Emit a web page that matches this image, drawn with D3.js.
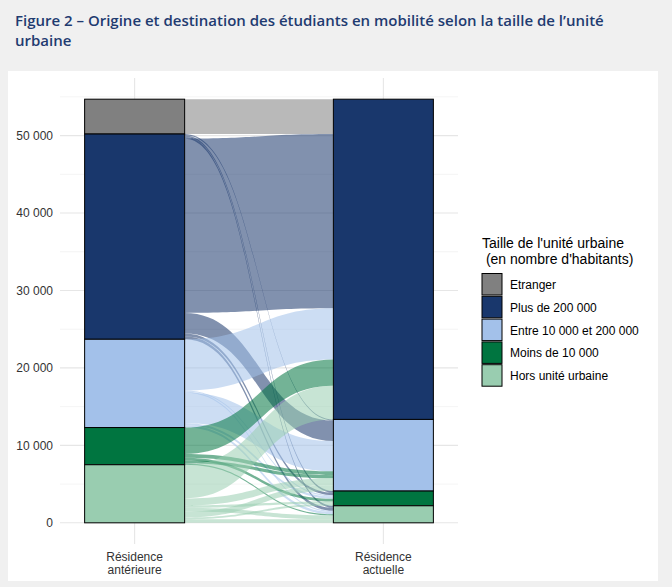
<!DOCTYPE html>
<html>
<head>
<meta charset="utf-8">
<script src="https://cdn.jsdelivr.net/npm/d3@7"></script>
<style>
  body { margin: 0; background: #f0f0f0; }
  svg { display: block; }
</style>
</head>
<body>
<svg width="672" height="587"></svg>
<script>
// categories (top to bottom in the strata)
const categories = ['Etranger', 'Plus de 200 000', 'Entre 10 000 et 200 000', 'Moins de 10 000', 'Hors unité urbaine'];
const colors = ['#808080', '#19376c', '#a3c1ea', '#007540', '#99cdb0'];
const axesLabels = [['Résidence', 'antérieure'], ['Résidence', 'actuelle']];
const yTicks = [0, 10000, 20000, 30000, 40000, 50000];

// flows: [origine, destination, effectif] (order = stacking order in the left stratum)
const flows = [
  ['Etranger', 'Plus de 200 000', 4500],
  ['Plus de 200 000', 'Entre 10 000 et 200 000', 150],
  ['Plus de 200 000', 'Moins de 10 000', 200],
  ['Plus de 200 000', 'Hors unité urbaine', 250],
  ['Plus de 200 000', 'Plus de 200 000', 22500],
  ['Plus de 200 000', 'Entre 10 000 et 200 000', 2650],
  ['Plus de 200 000', 'Moins de 10 000', 350],
  ['Plus de 200 000', 'Hors unité urbaine', 400],
  ['Entre 10 000 et 200 000', 'Plus de 200 000', 6600],
  ['Entre 10 000 et 200 000', 'Moins de 10 000', 150],
  ['Entre 10 000 et 200 000', 'Hors unité urbaine', 150],
  ['Entre 10 000 et 200 000', 'Entre 10 000 et 200 000', 3900],
  ['Entre 10 000 et 200 000', 'Moins de 10 000', 300],
  ['Entre 10 000 et 200 000', 'Hors unité urbaine', 300],
  ['Moins de 10 000', 'Plus de 200 000', 3400],
  ['Moins de 10 000', 'Entre 10 000 et 200 000', 500],
  ['Moins de 10 000', 'Moins de 10 000', 350],
  ['Moins de 10 000', 'Entre 10 000 et 200 000', 400],
  ['Moins de 10 000', 'Hors unité urbaine', 150],
  ['Hors unité urbaine', 'Plus de 200 000', 4350],
  ['Hors unité urbaine', 'Entre 10 000 et 200 000', 900],
  ['Hors unité urbaine', 'Moins de 10 000', 300],
  ['Hors unité urbaine', 'Hors unité urbaine', 500],
  ['Hors unité urbaine', 'Entre 10 000 et 200 000', 750],
  ['Hors unité urbaine', 'Moins de 10 000', 250],
  ['Hors unité urbaine', 'Hors unité urbaine', 450]
];

const svg = d3.select('svg');

const FONT = 'Liberation Sans, Arial, sans-serif';

// title + card
svg.append('g').selectAll('text')
  .data(['Figure 2 – Origine et destination des étudiants en mobilité selon la taille de l’unité', 'urbaine'])
  .join('text')
    .attr('x', 15)
    .attr('y', (d, i) => 26 + i * 19.5)
    .attr('font-family', 'Open Sans, sans-serif')
    .attr('font-weight', 600)
    .attr('font-size', 15)
    .attr('fill', '#1f3b70')
    .text(d => d);

svg.append('rect')
  .attr('x', 8).attr('y', 71)
  .attr('width', 650).attr('height', 510)
  .attr('fill', '#fff');

const total = d3.sum(flows, d => d[2]);
const x = d3.scalePoint().domain([0, 1]).range([60, 458]).padding(0.3);
const y = d3.scaleLinear()
  .domain([-total * 0.05, total * 1.05])
  .range([544, 78]);
const barW = 100;

const color = d3.scaleOrdinal().domain(categories).range(colors);
const fmt = d3.formatLocale({ decimal: ',', thousands: ' ', grouping: [3], currency: ['', ' €'] }).format(',');

// grid
const grid = svg.append('g');
grid.selectAll('.minor')
  .data(d3.range(5000, 60000, 10000))
  .join('line')
    .attr('x1', 60).attr('x2', 458)
    .attr('y1', d => y(d)).attr('y2', d => y(d))
    .attr('stroke', '#ececec').attr('stroke-width', 0.6);
grid.selectAll('.major')
  .data(yTicks)
  .join('line')
    .attr('x1', 60).attr('x2', 458)
    .attr('y1', d => y(d)).attr('y2', d => y(d))
    .attr('stroke', '#e6e6e6').attr('stroke-width', 1.1);
grid.selectAll('.vert')
  .data([0, 1])
  .join('line')
    .attr('x1', d => x(d)).attr('x2', d => x(d))
    .attr('y1', 78).attr('y2', 544)
    .attr('stroke', '#e6e6e6').attr('stroke-width', 1.1);

// y axis
const yAxis = svg.append('g')
  .attr('transform', 'translate(57,0)')
  .call(d3.axisLeft(y).tickValues(yTicks).tickFormat(fmt).tickSize(0).tickPadding(4));
yAxis.select('.domain').remove();
yAxis.selectAll('text')
  .attr('font-family', FONT).attr('font-size', 12).attr('fill', '#333');

// x axis labels
svg.append('g').selectAll('text')
  .data(axesLabels)
  .join('text')
    .attr('x', (d, i) => x(i))
    .attr('y', 561)
    .attr('text-anchor', 'middle')
    .attr('font-family', FONT).attr('font-size', 12).attr('fill', '#333')
    .selectAll('tspan')
    .data(d => d)
    .join('tspan')
      .attr('x', function () { return d3.select(this.parentNode).attr('x'); })
      .attr('dy', (d, i) => i ? 12.5 : 0)
      .text(d => d);

// stacking of lodes
const stratTotals = side => categories.map(c => d3.sum(flows.filter(f => f[side] === c), f => f[2]));
const leftTot = stratTotals(0);
const rightTot = stratTotals(1);

const stackStrata = tots => {
  let acc = total;
  return tots.map(v => { const top = acc; acc -= v; return { top, bottom: acc, value: v }; });
};
const leftStrata = stackStrata(leftTot);
const rightStrata = stackStrata(rightTot);

const lodes = flows.map((f, i) => ({ from: f[0], to: f[1], value: f[2], i }));
// left: array order inside each origin
categories.forEach((c, ci) => {
  let acc = leftStrata[ci].top;
  lodes.filter(l => l.from === c).forEach(l => { l.y0 = acc; acc -= l.value; l.y0b = acc; });
});
// right: by origin, then array order
categories.forEach((c, ci) => {
  let acc = rightStrata[ci].top;
  lodes.filter(l => l.to === c)
    .sort((a, b) => categories.indexOf(a.from) - categories.indexOf(b.from) || a.i - b.i)
    .forEach(l => { l.y1 = acc; acc -= l.value; l.y1b = acc; });
});

const x0 = x(0) + barW / 2;
const x1 = x(1) - barW / 2;
const xm = (x0 + x1) / 2;
const flowPath = l => {
  const a = y(l.y0), b = y(l.y0b), c = y(l.y1), d = y(l.y1b);
  return `M${x0},${a}C${xm},${a} ${xm},${c} ${x1},${c}L${x1},${d}C${xm},${d} ${xm},${b} ${x0},${b}Z`;
};

svg.append('g').selectAll('path')
  .data(lodes)
  .join('path')
    .attr('d', flowPath)
    .attr('fill', d => color(d.from))
    .attr('fill-opacity', 0.55);

// strata
const strataG = svg.append('g');
[leftStrata, rightStrata].forEach((st, side) => {
  strataG.selectAll(`.s${side}`)
    .data(st.map((s, i) => ({ ...s, cat: categories[i] })).filter(s => s.value > 0))
    .join('rect')
      .attr('x', x(side) - barW / 2)
      .attr('width', barW)
      .attr('y', d => y(d.top))
      .attr('height', d => y(d.bottom) - y(d.top))
      .attr('fill', d => color(d.cat))
      .attr('stroke', '#000').attr('stroke-width', 1);
});

// legend
const legend = svg.append('g').attr('transform', 'translate(482,0)');
legend.append('text')
  .attr('font-family', FONT).attr('font-size', 14).attr('fill', '#000')
  .selectAll('tspan')
  .data(['Taille de l\'unité urbaine', ' (en nombre d\'habitants)'])
  .join('tspan')
    .attr('x', 0)
    .attr('y', (d, i) => 248 + i * 16)
    .style('white-space', 'pre')
    .text(d => d);

const item = legend.selectAll('.item')
  .data(categories)
  .join('g')
    .attr('transform', (d, i) => `translate(0,${273.5 + i * 22.8})`);
item.append('rect')
  .attr('width', 20).attr('height', 21.5)
  .attr('fill', d => color(d))
  .attr('stroke', '#000').attr('stroke-width', 1);
item.append('text')
  .attr('x', 28).attr('y', 15.5)
  .attr('font-family', FONT).attr('font-size', 12).attr('fill', '#000')
  .text(d => d);
</script>
</body>
</html>
